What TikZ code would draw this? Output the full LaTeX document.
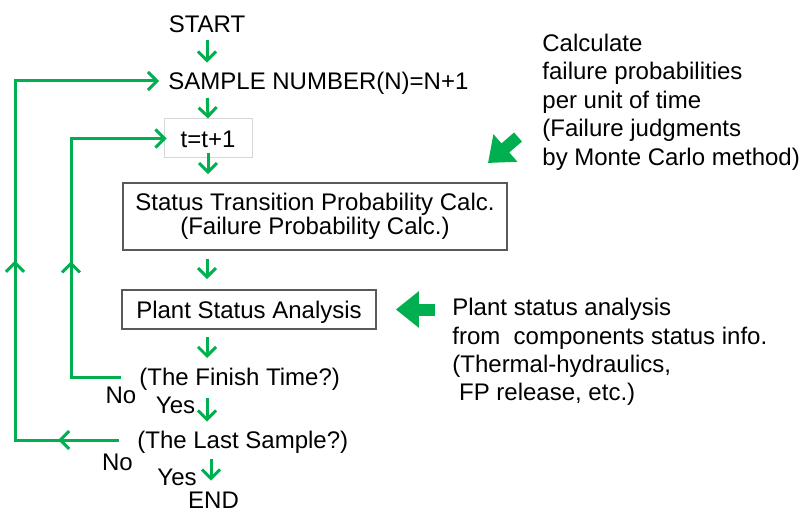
\documentclass[tikz,border=0pt]{standalone}
\usepackage{fontspec}
\setmainfont{Liberation Sans}
\usetikzlibrary{arrows.meta, positioning, decorations.markings}
\definecolor{flowgreen}{RGB}{0,176,80}
\definecolor{boxgray}{RGB}{89,89,89}
\definecolor{tboxgray}{RGB}{215,215,215}

\begin{document}
\begin{tikzpicture}[
        x=0.5pt, y=-0.5pt,
        txt/.style={inner sep=0pt, text height=8.6pt, text depth=0pt, font=\fontsize{12}{14.2}\selectfont},
        note/.style={inner sep=0pt, align=left, font=\fontsize{12}{14.2}\selectfont},
        stepbox/.style={draw=boxgray, line width=0.8pt, inner sep=0pt, align=center, font=\fontsize{12}{11.8}\selectfont},
        flow/.style={draw=flowgreen, line width=1.5pt, -{Straight Barb[length=4.5pt,width=9pt]}, shorten <=4pt, shorten >=5pt},
        loopline/.style={draw=flowgreen, line width=1.5pt, -{Straight Barb[length=4.5pt,width=9pt]}},
        midtips/.style 2 args={postaction={decorate}, decoration={markings,
            mark=at position #1 with {\arrow{Straight Barb[length=4.5pt,width=9pt]}},
            mark=at position #2 with {\arrow{Straight Barb[length=4.5pt,width=9pt]}}}},
        midtip/.style={postaction={decorate}, decoration={markings,
            mark=at position #1 with {\arrow{Straight Barb[length=4.5pt,width=9pt]}}}},
        fat/.style={draw=flowgreen, line width=6pt, -{Triangle[length=11.5pt,width=17.5pt]}}
    ]
        \useasboundingbox (0,0) rectangle (801,513);

        % Main flow
        \node[txt] (start) at (207,24) {START};
        \node[txt, anchor=west] (sample) at (168,81) {SAMPLE NUMBER(N)=N+1};
        \node[stepbox, draw=tboxgray, line width=0.5pt, minimum width=44pt, minimum height=19.5pt,
              text height=8.6pt, text depth=0pt] (tstep) at (208,138.5) {t=t+1};
        \node[stepbox, minimum width=192pt, minimum height=33.5pt] (calc) at (315,216.5)
            {Status Transition Probability Calc.\\(Failure Probability Calc.)};
        \node[stepbox, minimum width=127pt, minimum height=19.5pt,
              text height=8.6pt, text depth=0pt] (plant) at (249,309.5) {Plant Status Analysis};
        \node[txt, anchor=west] (finish) at (139,377) {(The Finish Time?)};
        \node[txt, anchor=west] (last) at (137,440) {(The Last Sample?)};
        \node[txt] (end) at (213.5,500) {END};

        % Yes / No labels
        \node[txt] (no1) at (121,395) {No};
        \node[txt] (yes1) at (175.5,405) {Yes};
        \node[txt] (no2) at (117.5,462) {No};
        \node[txt] (yes2) at (177,477) {Yes};

        % Notes
        \node[note, anchor=west] (calcnote) at (542,102) {Calculate\\failure probabilities\\per unit of time\\(Failure judgments\\by Monte Carlo method)};
        \node[note, anchor=west] (plantnote) at (452,352) {Plant status analysis\\from~~components status info.\\(Thermal-hydraulics,\\\hspace*{.28em}FP release, etc.)};

        % Flow arrows
        \draw[flow, shorten <=3.7pt, shorten >=4.7pt] (start.south) -- (start |- sample.north);
        \draw[flow, shorten >=0pt] (sample.south -| start) -- (tstep.north);
        \draw[flow, shorten <=-2.5pt, shorten >=4pt] (tstep.south) -- (tstep.south |- calc.north);
        \draw[flow] (calc.south -| start) -- (plant.north -| start);
        \draw[flow, shorten <=3.5pt] (plant.south -| start) -- (finish.north -| start);
        \draw[flow, shorten <=6pt, shorten >=4.7pt] (finish.south -| start) -- (last.north -| start);
        \draw[flow, shorten <=4.8pt, shorten >=5.2pt] ([xshift=-1.2pt]last.south -| end) -- ([xshift=-1.2pt]end.north);

        % Loops back
        \coordinate (innerx) at (71,0);
        \coordinate (outerx) at (15,0);
        \draw[loopline, midtip=0.435, shorten >=-1.5pt]
            ([xshift=-9pt]finish.west) -| (tstep.west -| innerx) -- (tstep.west);
        \draw[loopline, midtips={0.099}{0.46}, shorten >=4.5pt]
            ([xshift=-9pt]last.west) -| (sample.west -| outerx) -- (sample.west);

        % Input arrows
        \coordinate (calcTail) at (518,137);
        \coordinate (calcTip) at (488,163);
        \draw[fat] (calcTail) -- (calcTip);
        \draw[fat, shorten <=8.5pt, shorten >=9.5pt] (plantnote.west |- plant.east) -- (plant.east);

    \end{tikzpicture}
\end{document}
